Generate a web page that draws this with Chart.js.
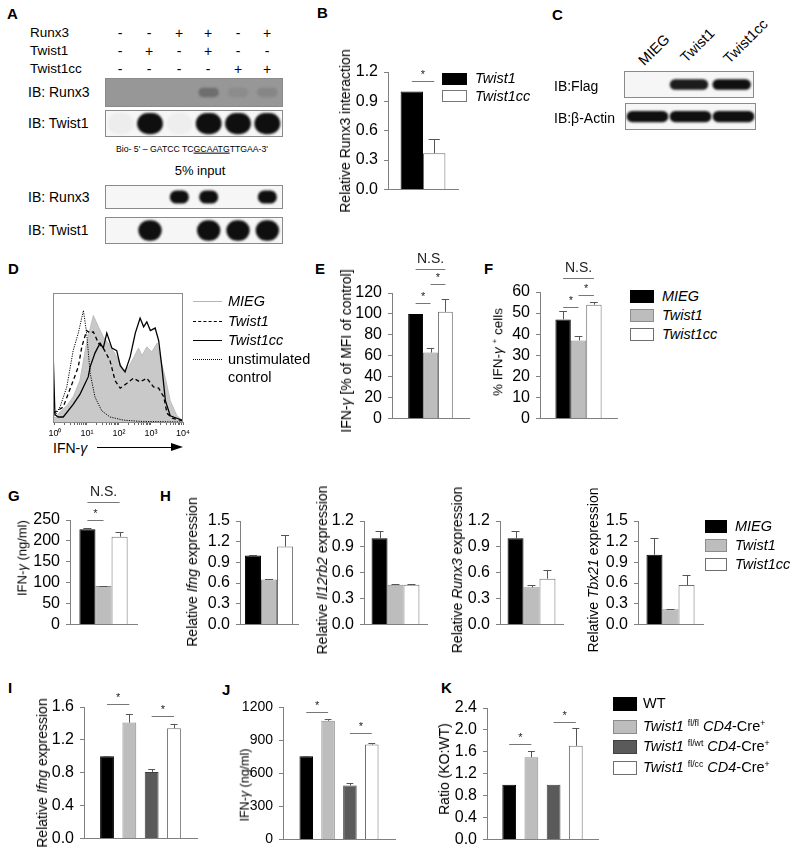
<!DOCTYPE html>
<html lang="en">
<head>
<meta charset="UTF-8">
<title>Twist1 / Runx3 figure</title>
<script src="https://cdn.jsdelivr.net/npm/chart.js"></script>
<style>
  body { margin: 0; background: #fff; }
  #fig { position: relative; width: 800px; height: 853px; overflow: hidden; font-family: "Liberation Sans", Arial, sans-serif; color: #000; }
  #fig canvas, .t, .blot, .sw { position: absolute; }
  .t { white-space: nowrap; line-height: 1; font-size: 14px; transform: translateY(-50%); }
  .c { transform: translate(-50%, -50%); }
  .r { transform: translate(-50%, -50%) rotate(-90deg); }
  .d { transform-origin: 0 50%; transform: translateY(-50%) rotate(-45deg); }
  .p { font-weight: bold; font-size: 15px; }
  .blot { border: 1px solid #8a8a8a; }
  sup { font-size: 0.6em; vertical-align: 0.6em; line-height: 0; }
</style>
</head>
<body>
<div id="fig"></div>
<script>
const fig = document.getElementById('fig');
Chart.defaults.font.family = '"Liberation Sans", Arial, sans-serif';
Chart.defaults.color = '#000';
const AXIS = '#808080';

// ---------- data ----------
// A: pulldown design and band intensities per lane (0 = no band, 1 = saturated)
const aRows = ['Runx3', 'Twist1', 'Twist1cc'];
const aDesign = [
  ['-', '-', '+', '+', '-', '+'],
  ['-', '+', '-', '+', '-', '-'],
  ['-', '-', '-', '-', '+', '+']
];
const aPullRunx3 = [0, 0, 0, 0.3, 0.08, 0.12];
const aPullTwist1 = [0.04, 1, 0.03, 1, 1, 1];
const aInputRunx3 = [0, 0, 1, 1, 0, 1];
const aInputTwist1 = [0, 1, 0, 1, 1, 1];

// B
const bGroups = ['Twist1', 'Twist1cc'];
const bValues = [1.0, 0.37];
const bErrors = [0, 0.15];

// C
const cLanes = ['MIEG', 'Twist1', 'Twist1cc'];
const cFlag = [0, 0.95, 1];
const cActin = [1, 1, 1];

// D: histograms, [log10 IFN-γ, % of max]
const dMIEG = [[-0.05, 3], [0, 3], [0.16, 8], [0.37, 13], [0.57, 20], [0.78, 33], [0.99, 63], [1.2, 85], [1.36, 76], [1.51, 68], [1.72, 61], [1.93, 52], [2.14, 41], [2.3, 44], [2.45, 51], [2.61, 59], [2.72, 53], [2.87, 60], [3.03, 56], [3.19, 63], [3.29, 51], [3.45, 35], [3.6, 17], [3.81, 5], [4, 1]];
const dTwist1 = [[-0.05, 7], [0.26, 12], [0.57, 33], [0.73, 44], [0.84, 60], [0.99, 73], [1.1, 71], [1.2, 72], [1.36, 63], [1.51, 59], [1.72, 49], [1.88, 33], [2.04, 27], [2.25, 31], [2.45, 35], [2.66, 32], [2.87, 35], [3.08, 28], [3.24, 27], [3.4, 20], [3.5, 7], [3.66, 3], [4, 1]];
const dTwist1cc = [[-0.05, 50], [0, 6], [0.1, 4], [0.26, 4], [0.57, 14], [0.78, 22], [0.89, 28], [1.04, 36], [1.1, 44], [1.25, 55], [1.41, 63], [1.51, 59], [1.62, 71], [1.78, 59], [1.93, 57], [2.04, 45], [2.19, 40], [2.35, 52], [2.51, 71], [2.66, 83], [2.77, 76], [2.87, 80], [2.98, 73], [3.13, 75], [3.24, 65], [3.34, 44], [3.45, 17], [3.6, 5], [3.81, 3], [4, 1]];
const dUnstim = [[-0.05, 3], [0.16, 12], [0.37, 28], [0.57, 57], [0.73, 71], [0.89, 89], [0.99, 71], [1.1, 39], [1.25, 20], [1.46, 9], [1.72, 4], [2.14, 1.5], [2.66, 0.5], [4, 0]];
const dDecades = [0, 1, 2, 3, 4];

// E-H: MIEG / Twist1 / Twist1cc
const ehGroups = ['MIEG', 'Twist1', 'Twist1cc'];
const eValues = [100, 63, 102];
const eErrors = [0, 4, 12];
const fValues = [47, 37, 54];
const fErrors = [4, 2, 1.3];
const gValues = [228, 92, 210];
const gErrors = [4, 1, 12];
const hIfng = [1.0, 0.65, 1.13];
const hIfngErr = [0.01, 0.01, 0.16];
const hIl12rb2 = [1.0, 0.46, 0.46];
const hIl12rb2Err = [0.08, 0.005, 0.005];
const hRunx3 = [1.0, 0.43, 0.53];
const hRunx3Err = [0.08, 0.03, 0.1];
const hTbx21 = [1.01, 0.22, 0.57];
const hTbx21Err = [0.25, 0.005, 0.14];

// I-K: genotypes
const ikGroups = ['WT', 'Twist1 fl/fl CD4-Cre+', 'Twist1 fl/wt CD4-Cre+', 'Twist1 fl/cc CD4-Cre+'];
const iValues = [1.0, 1.41, 0.81, 1.34];
const iErrors = [0.005, 0.1, 0.04, 0.05];
const jValues = [755, 1075, 490, 860];
const jErrors = [3, 15, 23, 17];
const kValues = [1.0, 1.5, 1.0, 1.71];
const kErrors = [0, 0.12, 0, 0.33];

// ---------- helpers ----------
const fill3 = ['#000', '#bdbdbd', '#fff'];
const line3 = ['#000', '#8c8c8c', '#6f6f6f'];
const fill4 = ['#000', '#bdbdbd', '#5a5a5a', '#fff'];
const line4 = ['#000', '#8c8c8c', '#404040', '#6f6f6f'];

function txt(x, y, html, cls, size) {
  const d = document.createElement('div');
  d.className = 't ' + (cls || '');
  d.style.left = x + 'px';
  d.style.top = y + 'px';
  if (size) d.style.fontSize = size + 'px';
  d.innerHTML = html;
  fig.appendChild(d);
  return d;
}

function swatch(x, y, w, h, css) {
  const d = document.createElement('div');
  d.className = 'sw';
  d.style.left = x + 'px';
  d.style.top = y + 'px';
  d.style.width = w + 'px';
  d.style.height = h + 'px';
  Object.assign(d.style, css);
  fig.appendChild(d);
}

// error bars + significance brackets
const marks = {
  id: 'marks',
  afterDatasetsDraw(chart, args, opts) {
    const ctx = chart.ctx, y = chart.scales.y;
    ctx.save();
    ctx.strokeStyle = '#555';
    ctx.lineWidth = 1;
    chart.data.datasets.forEach((ds, i) => {
      if (!ds.err) return;
      const bar = chart.getDatasetMeta(i).data[0];
      const top = Math.round(y.getPixelForValue(ds.data[0] + ds.err)) + 0.5;
      const cap = bar.width * 0.25;
      ctx.beginPath();
      ctx.moveTo(Math.round(bar.x) + 0.5, bar.y);
      ctx.lineTo(Math.round(bar.x) + 0.5, top);
      ctx.moveTo(bar.x - cap, top);
      ctx.lineTo(bar.x + cap, top);
      ctx.stroke();
    });
    (opts.sig || []).forEach(([a, b, v, label]) => {
      const x0 = chart.getDatasetMeta(a).data[0].x;
      const x1 = chart.getDatasetMeta(b).data[0].x;
      const py = Math.round(y.getPixelForValue(v)) + 0.5;
      ctx.strokeStyle = '#777';
      ctx.beginPath();
      ctx.moveTo(x0, py);
      ctx.lineTo(x1, py);
      ctx.stroke();
      ctx.fillStyle = '#222';
      ctx.textAlign = 'center';
      ctx.textBaseline = 'bottom';
      ctx.font = (label === '*' ? '11px' : '14px') + ' "Liberation Sans", Arial, sans-serif';
      ctx.fillText(label, (x0 + x1) / 2, py - (label === '*' ? 1 : 3));
    });
    ctx.restore();
  }
};

function bars(o) {
  const yW = 56, padTop = 50, padR = 6, padB = 12;
  const cv = document.createElement('canvas');
  cv.width = yW + (o.right - o.axisX) + padR;
  cv.height = padTop + (o.bottom - o.top) + 1 + padB;
  cv.style.left = (o.axisX - yW) + 'px';
  cv.style.top = (o.top - padTop) + 'px';
  fig.appendChild(cv);
  new Chart(cv, {
    type: 'bar',
    data: {
      labels: [''],
      datasets: o.values.map((v, i) => ({
        label: o.groups[i], data: [v], err: o.errs[i],
        backgroundColor: o.fills[i], borderColor: o.lines[i], borderWidth: 1,
        barPercentage: o.bar || 1, categoryPercentage: o.cat
      }))
    },
    options: {
      responsive: false, animation: false, events: [],
      layout: { padding: { top: padTop, right: padR, bottom: padB, left: 0 } },
      plugins: { legend: { display: false }, tooltip: { enabled: false }, marks: { sig: o.sig } },
      scales: {
        x: {
          grid: { display: false }, ticks: { display: false },
          border: { display: true, color: AXIS },
          afterFit: s => { s.height = 1; }
        },
        y: {
          min: 0, max: o.max,
          ticks: { stepSize: o.step, autoSkip: false, callback: v => Number(v).toFixed(o.dec), font: { size: o.tick || 16 }, padding: 6, color: '#000' },
          grid: { drawOnChartArea: false, tickLength: 4, color: AXIS },
          border: { color: AXIS },
          afterFit: s => { s.width = yW; }
        }
      }
    },
    plugins: [marks]
  });
}

const blur = {
  id: 'blur',
  beforeDatasetsDraw(c) { c.ctx.save(); c.ctx.filter = 'blur(1.3px)'; },
  afterDatasetsDraw(c) { c.ctx.restore(); }
};

function blot(x, y, w, h, bands, o) {
  const box = document.createElement('div');
  box.className = 'blot';
  Object.assign(box.style, { left: x + 'px', top: y + 'px', width: w + 'px', height: h + 'px', background: o.bg || '#f6f6f6' });
  const cv = document.createElement('canvas');
  cv.width = w; cv.height = h;
  cv.style.left = '0px'; cv.style.top = '0px';
  box.appendChild(cv);
  fig.appendChild(box);
  new Chart(cv, {
    type: 'bar',
    data: {
      labels: bands.map((_, i) => 'lane ' + (i + 1)),
      datasets: [{
        data: bands.map(() => [-o.half, o.half]),
        backgroundColor: bands.map(v => `rgba(15,15,15,${v})`),
        borderWidth: 0, borderRadius: 40, borderSkipped: false,
        barPercentage: o.width, categoryPercentage: 1
      }]
    },
    options: {
      responsive: false, animation: false, events: [],
      layout: { padding: 0 },
      plugins: { legend: { display: false }, tooltip: { enabled: false } },
      scales: { x: { display: false }, y: { display: false, min: -1, max: 1 } }
    },
    plugins: [blur]
  });
}

// ---------- panel letters ----------
[['A', 7, 13], ['B', 317, 12], ['C', 552, 14], ['D', 8, 268], ['E', 315, 268], ['F', 484, 268],
 ['G', 8, 495], ['H', 160, 495], ['I', 8, 687], ['J', 222, 689], ['K', 441, 687]]
  .forEach(([l, x, y]) => txt(x, y, l, 'p'));

// ---------- A ----------
const aLaneX = [120, 149, 179, 208, 238, 267];
const aRowY = [33, 51, 69];
aRows.forEach((r, i) => {
  txt(30, aRowY[i], r, '', 13.5);
  aDesign[i].forEach((s, j) => txt(aLaneX[j], aRowY[i], s, 'c', 14));
});
txt(28, 92, 'IB: Runx3');
txt(28, 123, 'IB: Twist1');
txt(192, 149, 'Bio- 5\' – GATCC TC<u>GCAATG</u>TTGAA-3\'', 'c', 8.7);
txt(200, 170, '5% input', 'c', 13);
txt(28, 197, 'IB: Runx3');
txt(28, 230, 'IB: Twist1');
blot(105, 78, 176, 27, aPullRunx3, { bg: '#979797', half: 0.35, width: 0.7 });
blot(105, 110, 176, 25, aPullTwist1, { half: 0.85, width: 0.88 });
blot(105, 185, 176, 22, aInputRunx3, { half: 0.6, width: 0.65 });
blot(105, 217, 176, 25, aInputTwist1, { half: 0.82, width: 0.8 });

// ---------- B ----------
bars({ axisX: 388, top: 72, right: 458, bottom: 192, max: 1.2, step: 0.3, dec: 1,
  groups: bGroups, values: bValues, errs: bErrors, fills: ['#000', '#fff'], lines: ['#000', '#6f6f6f'],
  cat: 0.64, sig: [[0, 1, 1.11, '*']] });
txt(345, 131, 'Relative Runx3 interaction', 'r');
swatch(442, 73, 23, 10, { background: '#000', border: '1px solid #000' });
swatch(442, 90, 23, 10, { background: '#fff', border: '1px solid #777' });
txt(475, 78, '<i>Twist1</i>', '', 14.5);
txt(475, 96, '<i>Twist1cc</i>', '', 14.5);

// ---------- C ----------
[[641, 63], [683, 60], [726, 61]].forEach(([x, y], i) => txt(x, y, cLanes[i], 'd', 14.5));
txt(554, 86, 'IB:Flag');
txt(554, 118, 'IB:β-Actin');
blot(624, 71, 128, 25, cFlag, { half: 0.42, width: 0.9 });
blot(625, 103, 129, 25, cActin, { half: 0.45, width: 0.97 });

// ---------- D ----------
(function () {
  const cv = document.createElement('canvas');
  cv.width = 154; cv.height = 149;
  cv.style.left = '41px'; cv.style.top = '291px';
  fig.appendChild(cv);
  const ticks = [];
  for (let n = 0; n < 4; n++) for (let k = 1; k < 10; k++) ticks.push(n + Math.log10(k));
  ticks.push(4);
  const sup = ['⁰', '¹', '²', '³', '⁴'];
  const xy = arr => arr.map(([x, y]) => ({ x, y }));
  const frame = {
    id: 'frame',
    afterDraw(c) {
      const a = c.chartArea, ctx = c.ctx;
      ctx.save(); ctx.strokeStyle = '#8a8a8a'; ctx.lineWidth = 1;
      ctx.strokeRect(a.left + 0.5, a.top + 0.5, a.right - a.left - 1, a.bottom - a.top);
      ctx.restore();
    }
  };
  new Chart(cv, {
    type: 'line',
    data: {
      datasets: [
        { label: 'MIEG', data: xy(dMIEG), fill: 'origin', backgroundColor: '#c9c9c9', borderColor: '#bdbdbd', borderWidth: 1, order: 4 },
        { label: 'Twist1', data: xy(dTwist1), borderColor: '#000', borderWidth: 1.3, borderDash: [4, 3], fill: false, order: 2 },
        { label: 'Twist1cc', data: xy(dTwist1cc), borderColor: '#000', borderWidth: 1.3, fill: false, order: 1 },
        { label: 'unstimulated control', data: xy(dUnstim), borderColor: '#000', borderWidth: 1, borderDash: [1.2, 1.2], fill: false, order: 3 }
      ]
    },
    options: {
      responsive: false, animation: false, events: [],
      layout: { padding: { left: 12, right: 12, top: 2, bottom: 0 } },
      elements: { point: { radius: 0 }, line: { tension: 0 } },
      plugins: { legend: { display: false }, tooltip: { enabled: false } },
      scales: {
        x: {
          type: 'linear', min: -0.06, max: 4,
          afterBuildTicks: s => { s.ticks = ticks.map(v => ({ value: v })); },
          ticks: { autoSkip: false, maxRotation: 0, padding: 3, font: { size: 9 }, color: '#000',
            callback: v => dDecades.includes(v) ? '10' + sup[v] : '' },
          grid: { drawOnChartArea: false, tickLength: 3, color: '#666' },
          border: { color: '#8a8a8a' },
          afterFit: s => { s.height = 18; }
        },
        y: { display: false, min: 0, max: 103 }
      }
    },
    plugins: [frame]
  });
})();
txt(53, 448, 'IFN-<i>γ</i>', '', 14);
swatch(97, 447, 75, 1, { background: '#000' });
swatch(171, 443, 0, 0, { borderLeft: '12px solid #000', borderTop: '4px solid transparent', borderBottom: '4px solid transparent' });
swatch(193, 301, 29, 0, { borderTop: '1.5px solid #b5b5b5' });
swatch(193, 321, 29, 0, { borderTop: '1.5px dashed #000' });
swatch(193, 340, 29, 0, { borderTop: '1.5px solid #000' });
swatch(193, 359, 29, 0, { borderTop: '1.5px dotted #000' });
txt(228, 301, '<i>MIEG</i>', '', 14.5);
txt(228, 321, '<i>Twist1</i>', '', 14.5);
txt(228, 340, '<i>Twist1cc</i>', '', 14.5);
txt(228, 359, 'unstimulated', '', 14.5);
txt(228, 377, 'control', '', 14.5);

// ---------- E, F ----------
bars({ axisX: 392, top: 293, right: 469, bottom: 421, max: 120, step: 20, dec: 0,
  groups: ehGroups, values: eValues, errs: eErrors, fills: fill3, lines: line3, cat: 0.58,
  sig: [[0, 1, 110, '*'], [1, 2, 129, '*'], [0, 2, 143, 'N.S.']] });
txt(346, 351, 'IFN-<i>γ</i> [% of MFI of control]', 'r');
bars({ axisX: 540, top: 292, right: 617, bottom: 421, max: 60, step: 10, dec: 0,
  groups: ehGroups, values: fValues, errs: fErrors, fills: fill3, lines: line3, cat: 0.6,
  sig: [[0, 1, 53, '*'], [1, 2, 58.6, '*'], [0, 2, 66.5, 'N.S.']] });
txt(498, 352, '% IFN-<i>γ</i> <sup>+</sup> cells', 'r', 13.5);
ehGroups.forEach((g, i) => {
  swatch(630, 290 + i * 19, 22, 11, { background: fill3[i], border: '1px solid ' + line3[i] });
  txt(662, 296 + i * 19, '<i>' + g + '</i>', '', 14.5);
});

// ---------- G, H ----------
bars({ axisX: 70, top: 520, right: 137, bottom: 627, max: 250, step: 50, dec: 0,
  groups: ehGroups, values: gValues, errs: gErrors, fills: fill3, lines: line3, cat: 0.72,
  sig: [[0, 1, 250, '*'], [0, 2, 292, 'N.S.']] });
txt(22, 558, 'IFN-<i>γ</i> (ng/ml)', 'r', 13);
bars({ axisX: 240, top: 521, right: 298, bottom: 627, max: 1.5, step: 0.3, dec: 1,
  groups: ehGroups, values: hIfng, errs: hIfngErr, fills: fill3, lines: line3, cat: 0.83 });
txt(192, 572, 'Relative <i>Ifng</i> expression', 'r');
bars({ axisX: 364, top: 521, right: 427, bottom: 627, max: 1.2, step: 0.3, dec: 1,
  groups: ehGroups, values: hIl12rb2, errs: hIl12rb2Err, fills: fill3, lines: line3, cat: 0.76 });
txt(322, 570, 'Relative <i>Il12rb2</i> expression', 'r');
bars({ axisX: 500, top: 521, right: 563, bottom: 627, max: 1.2, step: 0.3, dec: 1,
  groups: ehGroups, values: hRunx3, errs: hRunx3Err, fills: fill3, lines: line3, cat: 0.76 });
txt(457, 570, 'Relative <i>Runx3</i> expression', 'r');
bars({ axisX: 638, top: 521, right: 703, bottom: 627, max: 1.5, step: 0.3, dec: 1,
  groups: ehGroups, values: hTbx21, errs: hTbx21Err, fills: fill3, lines: line3, cat: 0.74 });
txt(593, 570, 'Relative <i>Tbx21</i> expression', 'r');
ehGroups.forEach((g, i) => {
  swatch(705, 520 + i * 19, 20, 11, { background: fill3[i], border: '1px solid ' + line3[i] });
  txt(735, 526 + i * 19, '<i>' + g + '</i>', '', 14.5);
});

// ---------- I, J, K ----------
bars({ axisX: 84, top: 707, right: 197, bottom: 841, max: 1.6, step: 0.4, dec: 1,
  groups: ikGroups, values: iValues, errs: iErrors, fills: fill4, lines: line4, cat: 0.79, bar: 0.62,
  sig: [[0, 1, 1.636, '*'], [2, 3, 1.49, '*']] });
txt(42, 773, 'Relative <i>Ifng</i> expression', 'r');
bars({ axisX: 283, top: 707, right: 395, bottom: 841, max: 1200, step: 300, dec: 0, tick: 14,
  groups: ikGroups, values: jValues, errs: jErrors, fills: fill4, lines: line4, cat: 0.78, bar: 0.62,
  sig: [[0, 1, 1155, '*'], [2, 3, 967, '*']] });
txt(245, 785, 'IFN-<i>γ</i> (ng/ml)', 'r', 12.5);
bars({ axisX: 487, top: 708, right: 598, bottom: 842, max: 2.4, step: 0.4, dec: 1,
  groups: ikGroups, values: kValues, errs: kErrors, fills: fill4, lines: line4, cat: 0.8, bar: 0.62,
  sig: [[0, 1, 1.737, '*'], [2, 3, 2.15, '*']] });
txt(444, 769, 'Ratio (KO:WT)', 'r');
const ikKeys = ['WT',
  '<i>Twist1</i> <sup>fl/fl</sup> <i>CD4</i>-Cre<sup>+</sup>',
  '<i>Twist1</i> <sup>fl/wt</sup> <i>CD4</i>-Cre<sup>+</sup>',
  '<i>Twist1</i> <sup>fl/cc</sup> <i>CD4</i>-Cre<sup>+</sup>'];
[703, 726, 746, 767].forEach((y, i) => {
  swatch(613, y - 6, 22, 12, { background: fill4[i], border: '1px solid ' + line4[i] });
  txt(643, y, ikKeys[i], '', 14.5);
});
</script>
</body>
</html>
